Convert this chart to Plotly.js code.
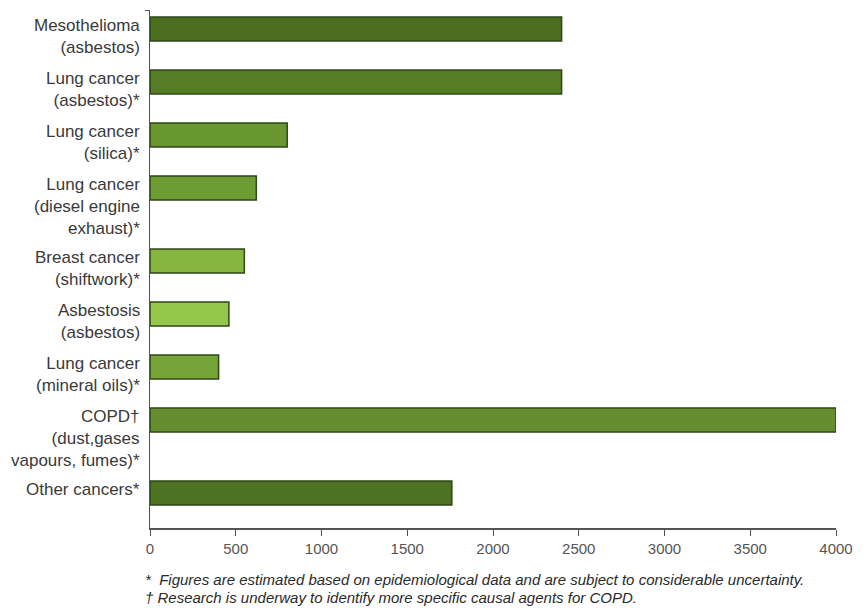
<!DOCTYPE html>
<html>
<head>
<meta charset="utf-8">
<script src="https://cdn.plot.ly/plotly-3.0.1.min.js"></script>
<style>html,body{margin:0;padding:0;background:#fff;}#chart{width:868px;height:610px;}</style>
</head>
<body>
<div id="chart"></div>
<script>
const categories = [
  "Mesothelioma<br>(asbestos)",
  "Lung cancer<br>(asbestos)*",
  "Lung cancer<br>(silica)*",
  "Lung cancer<br>(diesel engine<br>exhaust)*",
  "Breast cancer<br>(shiftwork)*",
  "Asbestosis<br>(asbestos)",
  "Lung cancer<br>(mineral oils)*",
  "COPD\u2020<br>(dust,gases<br>vapours, fumes)*",
  "Other cancers*"
];
const values = [2400, 2400, 800, 620, 550, 460, 400, 4000, 1760];
const barColors = ["#4b6e1f", "#557d27", "#68962f", "#6d9b34", "#86b63f", "#95c84a", "#76a338", "#648e30", "#4e7223"];
const xTicks = [0, 500, 1000, 1500, 2000, 2500, 3000, 3500, 4000];
const footnotes = [
  "*  Figures are estimated based on epidemiological data and are subject to considerable uncertainty.",
  "\u2020 Research is underway to identify more specific causal agents for COPD."
];

// vertical layout: each row's slot grows with the number of label lines
const BAR = 24, TOPGAP = 7, BOTGAP = 23;
const lines = categories.map(c => c.split("<br>").length);
const tops = [];
let cur = TOPGAP;
lines.forEach((n, i) => { tops.push(cur); cur += (n === 1 ? BAR : 13 + 20 * n); });
const yEnd = tops[tops.length - 1] + BAR + BOTGAP;
const centers = tops.map(t => t + BAR / 2);

const FONT = "'Liberation Sans Narrow', 'Arial Narrow', 'Liberation Sans', Arial, sans-serif";

const trace = {
  type: "bar",
  orientation: "h",
  x: values,
  y: centers,
  width: BAR,
  marker: { color: barColors, line: { color: "#2f4716", width: 1.5 } },
  hoverinfo: "x"
};

const annotations = categories.map((c, i) => ({
  xref: "paper", yref: "y",
  x: -0.012, y: tops[i] - 3,
  xanchor: "right", yanchor: "top",
  align: "right",
  text: c,
  showarrow: false,
  font: { family: FONT, size: 17, color: "#3a3a3a" }
}));
footnotes.forEach((t, i) => annotations.push({
  xref: "paper", yref: "paper",
  x: -0.01, y: -0.08 - i * 0.034,
  xanchor: "left", yanchor: "top",
  text: "<i>" + t + "</i>",
  showarrow: false,
  font: { family: FONT, size: 15, color: "#2a2a2a" }
}));

const layout = {
  width: 868, height: 610,
  margin: { l: 150, r: 32, t: 10, b: 82 },
  paper_bgcolor: "#fff", plot_bgcolor: "#fff",
  showlegend: false,
  xaxis: {
    range: [0, 4000],
    tickvals: xTicks,
    ticktext: xTicks.map(String),
    ticks: "outside", ticklen: 6, tickcolor: "#555", tickwidth: 1,
    showline: true, linecolor: "#555", linewidth: 1.5,
    showgrid: false, zeroline: false,
    tickfont: { family: FONT, size: 15, color: "#555" }
  },
  yaxis: {
    range: [yEnd, 0],
    autorange: false,
    tickvals: [0],
    ticktext: [""],
    ticks: "outside", ticklen: 4, tickcolor: "#555",
    showline: true, linecolor: "#555", linewidth: 1.5,
    showgrid: false, zeroline: false
  },
  annotations: annotations
};

Plotly.newPlot("chart", [trace], layout, { displayModeBar: false, staticPlot: true });
</script>
</body>
</html>
